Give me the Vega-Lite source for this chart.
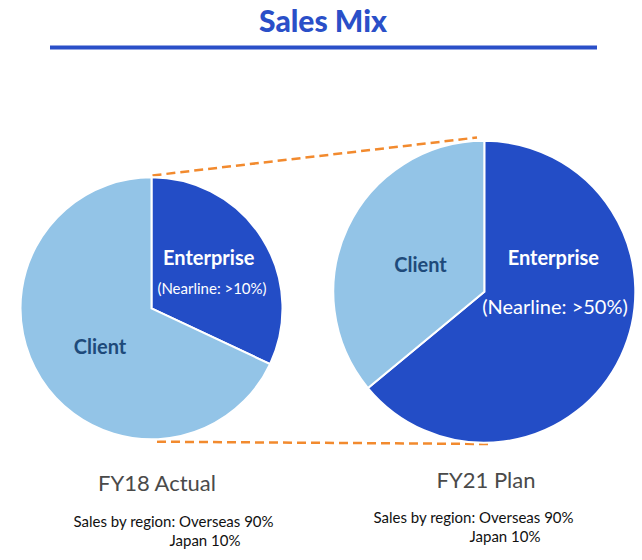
{
  "$schema": "https://vega.github.io/schema/vega-lite/v6.json",
  "width": 642,
  "height": 560,
  "autosize": {"type": "fit", "contains": "padding"},
  "padding": 0,
  "background": "white",
  "config": {"view": {"stroke": null}, "axis": {"disable": true}, "font": "Lato"},
  "datasets": {
    "fy18": [
      {"period": "FY18 Actual", "segment": "Enterprise", "share": 32},
      {"period": "FY18 Actual", "segment": "Client", "share": 68}
    ],
    "fy21": [
      {"period": "FY21 Plan", "segment": "Enterprise", "share": 64},
      {"period": "FY21 Plan", "segment": "Client", "share": 36}
    ]
  },
  "layer": [
    {
      "data": {"values": [{"text": "Sales Mix"}]},
      "mark": {"type": "text", "font": "Lato", "fontWeight": 900, "fontSize": 30, "color": "#2A4FC8", "align": "center", "baseline": "alphabetic"},
      "encoding": {
        "x": {"datum": 323, "type": "quantitative", "scale": {"domain": [0, 642], "nice": false, "zero": false}},
        "y": {"datum": 32, "type": "quantitative", "scale": {"domain": [0, 560], "reverse": true, "nice": false, "zero": false}},
        "text": {"field": "text"}
      }
    },
    {
      "data": {"values": [{"rule": "underline"}]},
      "mark": {"type": "rule", "strokeWidth": 4, "color": "#2A4FC8"},
      "encoding": {
        "x": {"datum": 50, "type": "quantitative"},
        "x2": {"datum": 597},
        "y": {"datum": 47.5, "type": "quantitative"}
      }
    },
    {
      "data": {"values": [{"rule": "top"}]},
      "mark": {"type": "rule", "strokeWidth": 2.5, "color": "#F28A2E", "strokeDash": [9, 5]},
      "encoding": {
        "x": {"datum": 152.5, "type": "quantitative"},
        "x2": {"datum": 477},
        "y": {"datum": 175.5, "type": "quantitative"},
        "y2": {"datum": 137.5}
      }
    },
    {
      "data": {"values": [{"rule": "bottom"}]},
      "mark": {"type": "rule", "strokeWidth": 2.5, "color": "#F28A2E", "strokeDash": [9, 5]},
      "encoding": {
        "x": {"datum": 157, "type": "quantitative"},
        "x2": {"datum": 490},
        "y": {"datum": 441.7, "type": "quantitative"},
        "y2": {"datum": 444}
      }
    },
    {
      "data": {"name": "fy18"},
      "mark": {"type": "arc", "outerRadius": 131, "stroke": "white", "strokeWidth": 2},
      "encoding": {
        "x": {"datum": 151.5, "type": "quantitative"},
        "y": {"datum": 308.3, "type": "quantitative"},
        "theta": {"field": "share", "type": "quantitative", "stack": true},
        "color": {"field": "segment", "type": "nominal", "legend": null, "scale": {"domain": ["Enterprise", "Client"], "range": ["#234DC6", "#93C4E7"]}},
        "order": {"field": "segment", "sort": "descending"}
      }
    },
    {
      "data": {"name": "fy21"},
      "mark": {"type": "arc", "outerRadius": 151, "stroke": "white", "strokeWidth": 2},
      "encoding": {
        "x": {"datum": 484.3, "type": "quantitative"},
        "y": {"datum": 291.8, "type": "quantitative"},
        "theta": {"field": "share", "type": "quantitative", "stack": true},
        "color": {"field": "segment", "type": "nominal", "legend": null},
        "order": {"field": "segment", "sort": "descending"}
      }
    },
    {
      "data": {"values": [{"text": "Enterprise"}]},
      "mark": {"type": "text", "fontWeight": "bold", "fontSize": 20, "color": "white", "align": "center", "baseline": "alphabetic"},
      "encoding": {"x": {"datum": 208.7, "type": "quantitative"}, "y": {"datum": 264.5, "type": "quantitative"}, "text": {"field": "text"}}
    },
    {
      "data": {"values": [{"text": "(Nearline: >10%)"}]},
      "mark": {"type": "text", "fontSize": 15, "color": "white", "align": "center", "baseline": "alphabetic"},
      "encoding": {"x": {"datum": 212, "type": "quantitative"}, "y": {"datum": 294.3, "type": "quantitative"}, "text": {"field": "text"}}
    },
    {
      "data": {"values": [{"text": "Client"}]},
      "mark": {"type": "text", "fontWeight": "bold", "fontSize": 20, "color": "#1E4A7A", "align": "center", "baseline": "alphabetic"},
      "encoding": {"x": {"datum": 100, "type": "quantitative"}, "y": {"datum": 354, "type": "quantitative"}, "text": {"field": "text"}}
    },
    {
      "data": {"values": [{"text": "Enterprise"}]},
      "mark": {"type": "text", "fontWeight": "bold", "fontSize": 20, "color": "white", "align": "center", "baseline": "alphabetic"},
      "encoding": {"x": {"datum": 553.3, "type": "quantitative"}, "y": {"datum": 265, "type": "quantitative"}, "text": {"field": "text"}}
    },
    {
      "data": {"values": [{"text": "(Nearline: >50%)"}]},
      "mark": {"type": "text", "fontSize": 20, "color": "white", "align": "center", "baseline": "alphabetic"},
      "encoding": {"x": {"datum": 555, "type": "quantitative"}, "y": {"datum": 314, "type": "quantitative"}, "text": {"field": "text"}}
    },
    {
      "data": {"values": [{"text": "Client"}]},
      "mark": {"type": "text", "fontWeight": "bold", "fontSize": 20, "color": "#1E4A7A", "align": "center", "baseline": "alphabetic"},
      "encoding": {"x": {"datum": 420.5, "type": "quantitative"}, "y": {"datum": 271.7, "type": "quantitative"}, "text": {"field": "text"}}
    },
    {
      "data": {"values": [{"text": "FY18 Actual"}]},
      "mark": {"type": "text", "fontSize": 22, "color": "#4A4A4A", "align": "center", "baseline": "alphabetic"},
      "encoding": {"x": {"datum": 157, "type": "quantitative"}, "y": {"datum": 490.7, "type": "quantitative"}, "text": {"field": "text"}}
    },
    {
      "data": {"values": [{"text": "FY21 Plan"}]},
      "mark": {"type": "text", "fontSize": 22, "color": "#4A4A4A", "align": "center", "baseline": "alphabetic"},
      "encoding": {"x": {"datum": 486, "type": "quantitative"}, "y": {"datum": 488, "type": "quantitative"}, "text": {"field": "text"}}
    },
    {
      "data": {"values": [{"text": "Sales by region: Overseas 90%"}]},
      "mark": {"type": "text", "fontSize": 15, "color": "#111111", "align": "center", "baseline": "alphabetic"},
      "encoding": {"x": {"datum": 173.5, "type": "quantitative"}, "y": {"datum": 526.7, "type": "quantitative"}, "text": {"field": "text"}}
    },
    {
      "data": {"values": [{"text": "Japan 10%"}]},
      "mark": {"type": "text", "fontSize": 15, "color": "#111111", "align": "center", "baseline": "alphabetic"},
      "encoding": {"x": {"datum": 205, "type": "quantitative"}, "y": {"datum": 546, "type": "quantitative"}, "text": {"field": "text"}}
    },
    {
      "data": {"values": [{"text": "Sales by region: Overseas 90%"}]},
      "mark": {"type": "text", "fontSize": 15, "color": "#111111", "align": "center", "baseline": "alphabetic"},
      "encoding": {"x": {"datum": 473.5, "type": "quantitative"}, "y": {"datum": 523.3, "type": "quantitative"}, "text": {"field": "text"}}
    },
    {
      "data": {"values": [{"text": "Japan 10%"}]},
      "mark": {"type": "text", "fontSize": 15, "color": "#111111", "align": "center", "baseline": "alphabetic"},
      "encoding": {"x": {"datum": 505, "type": "quantitative"}, "y": {"datum": 541.5, "type": "quantitative"}, "text": {"field": "text"}}
    }
  ]
}
